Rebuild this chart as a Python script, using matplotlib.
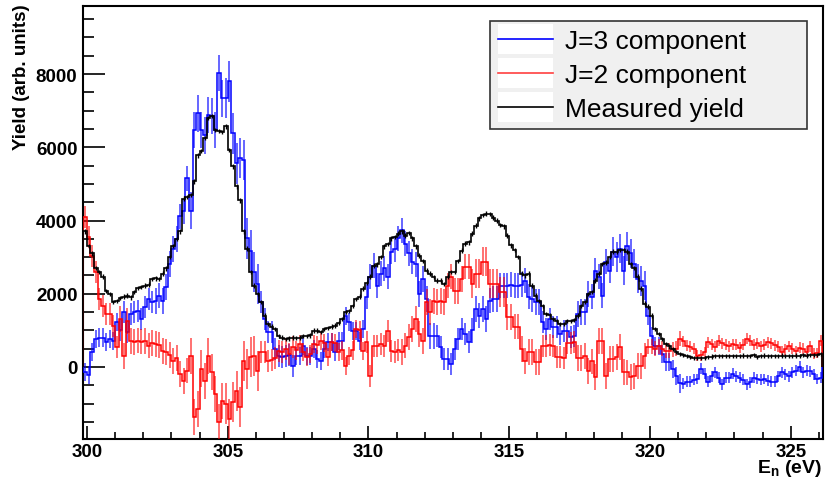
import numpy as np
import matplotlib
matplotlib.use("Agg")
import matplotlib.pyplot as plt
from matplotlib.legend_handler import HandlerBase
from matplotlib.patches import Rectangle
from matplotlib.lines import Line2D
from matplotlib.ticker import MultipleLocator, FixedLocator

plt.rcParams['font.family'] = ['Liberation Sans', 'DejaVu Sans']
plt.rcParams['mathtext.fontset'] = 'custom'
plt.rcParams['mathtext.rm'] = 'Liberation Sans'
plt.rcParams['mathtext.bf'] = 'Liberation Sans:bold'

# Neutron energy binning (eV): 210 bins of 0.125 eV
bin_start = 299.875
bin_width = 0.125
n_bins = 210

# Measured yield
measured = [
    3700, 3300, 3100, 2700, 2600, 2470, 2080, 2000, 1780, 1800,
    1880, 1920, 1950, 1900, 2050, 2150, 2190, 2220, 2250, 2400,
    2420, 2410, 2550, 2690, 3000, 3300, 3500, 3700, 4600, 4650,
    4700, 5070, 5780, 5900, 6250, 6800, 6850, 6470, 6450, 6420,
    6570, 5920, 5480, 4930, 4550, 3700, 3230, 2600, 2220, 2000,
    1780, 1400, 1180, 1100, 1040, 850, 800, 770, 780, 800,
    790, 800, 850, 840, 860, 990, 990, 960, 1040, 1060,
    1100, 1130, 1200, 1310, 1500, 1520, 1670, 1850, 1920, 2140,
    2300, 2470, 2770, 2800, 3010, 3290, 3350, 3510, 3550, 3640,
    3700, 3590, 3660, 3510, 3290, 3040, 2900, 2630, 2550, 2450,
    2360, 2360, 2270, 2470, 2600, 2600, 2900, 3180, 3370, 3400,
    3640, 3860, 4060, 4150, 4190, 4180, 4080, 4000, 3870, 3840,
    3590, 3320, 3200, 3010, 2550, 2500, 2550, 2220, 1950, 1800,
    1670, 1450, 1420, 1310, 1250, 1180, 1180, 1260, 1250, 1280,
    1400, 1670, 1780, 2000, 2050, 2360, 2550, 2820, 2850, 3010,
    3150, 3150, 3200, 3200, 3150, 2820, 2700, 2470, 2140, 1730,
    1650, 1400, 1040, 900, 770, 630, 560, 490, 400, 360,
    330, 300, 270, 250, 250, 240, 250, 270, 280, 290,
    290, 300, 290, 290, 300, 300, 290, 310, 300, 300,
    320, 270, 300, 310, 300, 290, 300, 300, 310, 300,
    290, 300, 310, 300, 320, 310, 320, 320, 330, 350,
]
measured_err = 60

# J=3 component
j3 = [
    -140, -220, 410, 770, 800, 800, 680, 770, 700, 1230,
    1000, 1500, 960, 1450, 1500, 1530, 1300, 1650, 1860, 1770,
    1800, 1950, 1800, 2190, 2820, 3230, 3500, 4110, 4250, 5150,
    4270, 6470, 6930, 6470, 6330, 6880, 6850, 6470, 8030, 7340,
    7340, 7800, 6380, 5560, 5700, 5650, 3510, 3180, 2600, 2270,
    1780, 1310, 960, 960, 490, 300, 270, 300, 330, 30,
    300, 300, 580, 300, 300, 490, 220, 160, 490, 680,
    680, 410, 710, 710, 1400, 1230, 990, 990, 710, 1040,
    1920, 2470, 2770, 2220, 2550, 2690, 2470, 3150, 3230, 3510,
    3730, 3370, 3100, 2880, 2800, 2000, 2410, 1860, 850, 850,
    850, 550, 220, 220, 80, 490, 770, 1040, 900, 680,
    1000, 1590, 1400, 1590, 1310, 1810, 1860, 1860, 2220, 2220,
    2220, 2250, 2220, 2220, 2250, 2360, 1920, 1850, 1780, 1780,
    1230, 1040, 1310, 1100, 1100, 900, 990, 990, 820, 850,
    1450, 1500, 1500, 2000, 1920, 2630, 2470, 1950, 2880, 2630,
    3150, 3000, 3230, 2630, 3290, 3100, 2820, 2410, 2350, 2220,
    1400, 850, 580, 580, 360, 140, 140, -50, -250, -450,
    -460, -410, -400, -350, -330, -50, -190, -410, -250, -140,
    -300, -470, -300, -300, -190, -250, -300, -350, -470, -420,
    -300, -330, -350, -330, -380, -410, -400, -250, -140, -200,
    -250, -150, -100, 0, -150, -100, -120, -200, -330, -300,
]
# statistical uncertainty of J=3, one value per block of 10 bins
j3_err_blocks = [250, 300, 350, 500, 550, 300, 250, 250, 350, 350, 300,
                 350, 350, 300, 350, 400, 250, 150, 150, 150, 150]

# J=2 component
j2 = [
    4100, 3560, 3040, 2600, 1860, 1670, 1450, 1450, 1120, 550,
    1310, 300, 1260, 700, 680, 720, 690, 710, 580, 650,
    620, 600, 440, 400, 330, 160, 250, -190, -380, -100,
    300, -1370, -1150, -50, -380, 300, -140, -740, -1510, -930,
    -1000, -1420, -960, -660, -1100, 160, -50, 270, 300, -110,
    410, 410, 160, 200, 250, 440, 400, 490, 350, 550,
    450, 630, 400, 270, 350, 630, 600, 710, 650, 270,
    680, 650, 410, 450, 30, 300, 450, 1040, 1000, 440,
    680, -250, 580, 560, 620, 560, 990, 440, 400, 450,
    400, 580, 820, 1040, 1310, 900, 710, 1780, 1500, 1800,
    1780, 1800, 1780, 2220, 2470, 2080, 2080, 2410, 2740, 2740,
    2270, 2550, 2550, 2880, 2880, 2270, 2270, 2270, 2050, 2050,
    1370, 1370, 1100, 1100, 490, 160, 400, 400, 140, 140,
    580, 580, 600, 560, 270, 270, 250, 650, 650, 680,
    250, 250, 300, -110, 150, -270, 700, 700, -250, 220,
    220, 270, 550, -140, -150, -270, -250, 30, 30, 300,
    550, 550, 500, 560, 500, 440, 440, 480, 500, 770,
    700, 580, 550, 490, 300, 320, 400, 680, 620, 550,
    710, 650, 600, 560, 620, 600, 530, 600, 770, 720,
    600, 650, 560, 600, 680, 640, 590, 550, 410, 480,
    560, 500, 430, 530, 500, 420, 560, 360, 380, 720,
]
j2_err_blocks = [300, 350, 350, 500, 550, 300, 250, 250, 300, 350, 350,
                 400, 350, 300, 350, 350, 200, 150, 150, 150, 150]

edges = bin_start + bin_width * np.arange(n_bins + 1)
centers = 0.5 * (edges[:-1] + edges[1:])
j3_err = np.repeat(j3_err_blocks, 10)[:n_bins]
j2_err = np.repeat(j2_err_blocks, 10)[:n_bins]

fig = plt.figure(figsize=(8.26, 4.81), dpi=100)
ax = fig.add_axes([0.1005, 0.0852, 0.896, 0.9002])

blue = '#0000ff'
red = '#ff0000'

ax.errorbar(centers, j3, yerr=j3_err, fmt='none', ecolor=blue, elinewidth=1.3,
            alpha=0.65, zorder=2)
ax.stairs(j3, edges, color=blue, lw=1.1, zorder=3)

ax.errorbar(centers, j2, yerr=j2_err, fmt='none', ecolor=red, elinewidth=1.3,
            alpha=0.6, zorder=4)
ax.stairs(j2, edges, color=red, lw=1.1, zorder=5)

ax.errorbar(centers, measured, yerr=measured_err, fmt='none', ecolor='black',
            elinewidth=1.0, zorder=6)
ax.stairs(measured, edges, color='black', lw=1.2, zorder=7)

ax.set_xlim(299.86, 326.15)
ax.set_ylim(-1970, 9860)

ax.xaxis.set_major_locator(MultipleLocator(5))
ax.xaxis.set_minor_locator(MultipleLocator(1))
ax.yaxis.set_major_locator(FixedLocator([0, 2000, 4000, 6000, 8000]))
ax.yaxis.set_minor_locator(MultipleLocator(500))

ax.tick_params(axis='both', which='both', direction='in', top=False, right=False,
               width=1.2, color='black')
ax.tick_params(axis='x', which='major', length=9.5, pad=3, labelsize=13.5)
ax.tick_params(axis='x', which='minor', length=5)
ax.tick_params(axis='y', which='major', length=16, pad=4, labelsize=13.5)
ax.tick_params(axis='y', which='minor', length=8)
for lab in ax.get_xticklabels() + ax.get_yticklabels():
    lab.set_fontweight('bold')

for sp in ax.spines.values():
    sp.set_linewidth(1.5)

ax.set_ylabel('Yield (arb. units)', fontsize=13.5, fontweight='bold')
ax.yaxis.set_label_coords(-0.083, 1.005)
ax.yaxis.label.set_horizontalalignment('right')
ax.yaxis.label.set_verticalalignment('center')

fig.text(0.996, 0.004, r'$\mathbf{E_{n}}$ (eV)', ha='right', va='bottom',
         fontsize=14, fontweight='bold')


class LineOnWhite(HandlerBase):
    def create_artists(self, legend, orig_handle, xdescent, ydescent, width,
                       height, fontsize, trans):
        bg = Rectangle((-xdescent, -ydescent - 0.3 * height), width, 1.6 * height,
                       facecolor='white', edgecolor='none', transform=trans)
        ln = Line2D([-xdescent, -xdescent + width],
                    [height / 2 - ydescent] * 2, color=orig_handle.get_color(),
                    lw=1.2, transform=trans)
        return [bg, ln]


handles = [Line2D([], [], color=blue), Line2D([], [], color='#ff4040'),
           Line2D([], [], color='black')]
labels = ['J=3 component', 'J=2 component', 'Measured yield']
leg = ax.legend(handles, labels, loc='upper left',
                bbox_to_anchor=(0.55, 0.70, 0.428, 0.265), mode='expand',
                fontsize=19, handlelength=2.1, handletextpad=0.45,
                labelspacing=0.38, borderpad=0.3, borderaxespad=0,
                fancybox=False, framealpha=1, facecolor='#f0f0f0',
                edgecolor='#333333',
                handler_map={Line2D: LineOnWhite()})
leg.get_frame().set_linewidth(1.2)
leg.set_zorder(10)

fig.savefig('out.png', dpi=100)
